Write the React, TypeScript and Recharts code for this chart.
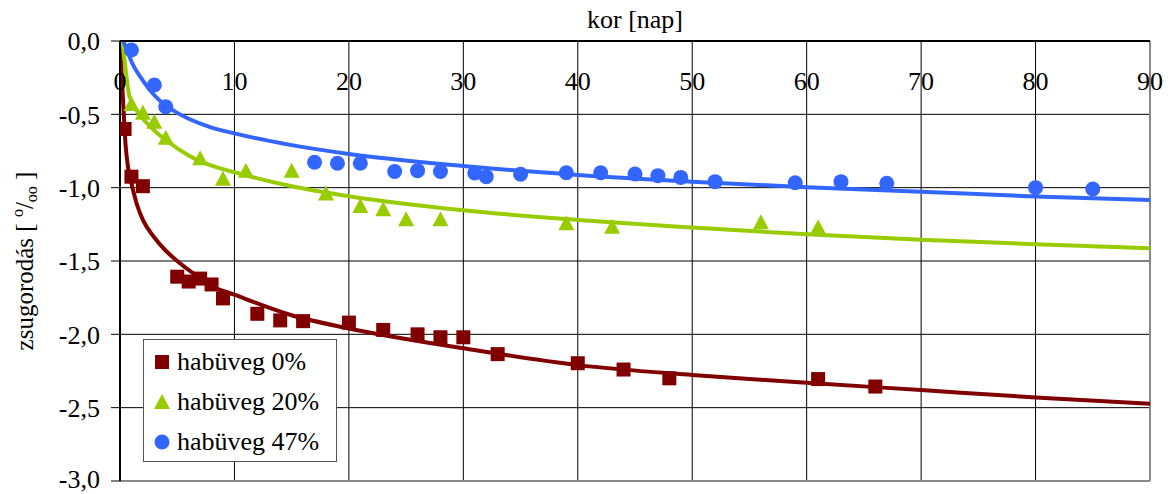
import React from "react";
import {
  ComposedChart,
  Line,
  Scatter,
  XAxis,
  YAxis,
  CartesianGrid,
  Legend,
  ReferenceLine,
} from "recharts";

// measured shrinkage, habüveg 0%
const days0 = [0.4, 1, 2, 5, 6, 7, 8, 9, 12, 14, 16, 20, 23, 26, 28, 30, 33, 40, 44, 48, 61, 66];
const vals0 = [-0.6, -0.925, -0.99, -1.607, -1.64, -1.62, -1.66, -1.755, -1.86, -1.905, -1.91, -1.92, -1.97, -2.0, -2.02, -2.02, -2.135, -2.197, -2.24, -2.3, -2.305, -2.356];

// habüveg 20%
const days20 = [1, 2, 3, 4, 7, 9, 11, 15, 18, 21, 23, 25, 28, 39, 43, 56, 61];
const vals20 = [-0.43, -0.49, -0.55, -0.66, -0.8, -0.94, -0.884, -0.884, -1.04, -1.125, -1.147, -1.215, -1.215, -1.243, -1.266, -1.236, -1.27];

// habüveg 47%
const days47 = [1, 3, 4, 17, 19, 21, 24, 26, 28, 31, 32, 35, 39, 42, 45, 47, 49, 52, 59, 63, 67, 80, 85];
const vals47 = [-0.061, -0.3, -0.448, -0.827, -0.834, -0.834, -0.89, -0.884, -0.89, -0.9, -0.925, -0.909, -0.898, -0.898, -0.907, -0.918, -0.93, -0.959, -0.966, -0.959, -0.97, -1.0, -1.009];

// trend curves
const trendDays0 = [0, 0.25, 0.5, 0.7, 1, 1.5, 2, 3, 4, 5, 6.5, 8, 10, 15, 20, 30, 40, 50, 60, 70, 80, 90];
const trend0 = [0, -0.38, -0.72, -0.86, -0.97, -1.12, -1.22, -1.34, -1.43, -1.5, -1.59, -1.67, -1.73, -1.87, -1.96, -2.095, -2.21, -2.277, -2.33, -2.38, -2.43, -2.474];

const trendDays20 = [0.2, 0.5, 0.8, 1, 1.5, 2, 3, 4, 6, 8, 10, 15, 20, 30, 40, 50, 60, 70, 80, 90];
const trend20 = [0, -0.2, -0.37, -0.41, -0.48, -0.53, -0.61, -0.675, -0.78, -0.85, -0.895, -0.99, -1.058, -1.154, -1.22, -1.272, -1.318, -1.355, -1.385, -1.413];

const trendDays47 = [0.3, 0.6, 1, 2, 3, 4, 5, 6, 8, 10, 15, 20, 30, 40, 50, 60, 70, 80, 90];
const trend47 = [0, -0.06, -0.14, -0.27, -0.37, -0.44, -0.49, -0.53, -0.59, -0.63, -0.71, -0.77, -0.852, -0.913, -0.959, -0.997, -1.027, -1.061, -1.084];

const xTicks = [0, 10, 20, 30, 40, 50, 60, 70, 80, 90];
const yTicks = [0, -0.5, -1, -1.5, -2, -2.5, -3];

const seriesNames = ["habüveg 0%", "habüveg 20%", "habüveg 47%"];
const colors = ["#800000", "#99cc00", "#3366ff"];

const FONT = "Liberation Serif, Tinos, Times New Roman, DejaVu Serif, serif";

const toPoints = (xs: number[], ys: number[]) => xs.map((x, i) => ({ x, y: ys[i] }));

const Square = ({ cx, cy, fill }: any) => (
  <rect x={cx - 7} y={cy - 7} width={14} height={14} fill={fill} />
);
const Triangle = ({ cx, cy, fill }: any) => (
  <polygon points={`${cx},${cy - 8} ${cx + 8},${cy + 7} ${cx - 8},${cy + 7}`} fill={fill} />
);
const Dot = ({ cx, cy, fill }: any) => <circle cx={cx} cy={cy} r={7.5} fill={fill} />;

const shapes = [Square, Triangle, Dot];

const XTick = ({ x, y, payload }: any) => (
  <text x={x} y={y + 57} textAnchor="middle" fontSize={26} fontFamily={FONT} fill="#000">
    {payload.value}
  </text>
);

const YLabel = () => (
  <text
    transform="translate(33,261) rotate(-90)"
    textAnchor="middle"
    fontSize={25}
    fontFamily={FONT}
    fill="#000"
  >
    zsugorodás [ <tspan fontSize={16} dy={-10}>o</tspan>
    <tspan dy={10}>/</tspan>
    <tspan fontSize={16} dy={4}>oo</tspan>
    <tspan dy={-4}> ]</tspan>
  </text>
);

const LegendBox = () => (
  <div
    style={{
      width: 194,
      height: 123,
      border: "1px solid #555",
      background: "#fff",
      boxSizing: "border-box",
      fontFamily: FONT,
      fontSize: 26,
      padding: "2px 0 0 9px",
    }}
  >
    {seriesNames.map((name, i) => {
      const Shape = shapes[i];
      return (
        <div key={name} style={{ display: "flex", alignItems: "center", height: 40 }}>
          <svg width={18} height={18} style={{ marginRight: 6 }}>
            <Shape cx={9} cy={9} fill={colors[i]} />
          </svg>
          <span>{name}</span>
        </div>
      );
    })}
  </div>
);

export default function App() {
  const points = [toPoints(days0, vals0), toPoints(days20, vals20), toPoints(days47, vals47)];
  const trends = [
    toPoints(trendDays0, trend0),
    toPoints(trendDays20, trend20),
    toPoints(trendDays47, trend47),
  ];

  return (
    <div style={{ position: "absolute", left: 0, top: 0, width: 1173, height: 494, background: "#fff" }}>
      <ComposedChart width={1173} height={494} margin={{ top: 0, right: 23, bottom: 13, left: 0 }}>
        <CartesianGrid stroke="#000" strokeWidth={1} />
        <ReferenceLine x={90} stroke="#888" strokeWidth={2} />
        <ReferenceLine y={-3} stroke="#888" strokeWidth={2} />
        <XAxis
          type="number"
          dataKey="x"
          orientation="top"
          domain={[0, 90]}
          ticks={xTicks}
          height={41}
          tickLine={false}
          axisLine={{ stroke: "#000", strokeWidth: 2 }}
          tick={<XTick />}
          label={{
            value: "kor [nap]",
            position: "insideTop",
            offset: 10,
            fontSize: 26,
            fontFamily: FONT,
            fill: "#000",
          }}
          allowDataOverflow
        />
        <YAxis
          type="number"
          dataKey="y"
          domain={[-3, 0]}
          ticks={yTicks}
          width={120}
          tickSize={9}
          tickMargin={11}
          tickLine={{ stroke: "#000" }}
          axisLine={{ stroke: "#000", strokeWidth: 2 }}
          tick={{ fill: "#000", fontSize: 26, fontFamily: FONT }}
          tickFormatter={(v: number) => v.toFixed(1).replace(".", ",")}
          label={<YLabel />}
          allowDataOverflow
        />
        {trends.map((data, i) => (
          <Line
            key={"t" + i}
            data={data}
            dataKey="y"
            type="monotone"
            stroke={colors[i]}
            strokeWidth={4}
            dot={false}
            activeDot={false}
            isAnimationActive={false}
            legendType="none"
          />
        ))}
        {points.map((data, i) => {
          const Shape = shapes[i];
          return (
            <Scatter
              key={"s" + i}
              name={seriesNames[i]}
              data={data}
              dataKey="y"
              fill={colors[i]}
              shape={(p: any) => <Shape cx={p.cx} cy={p.cy} fill={colors[i]} />}
              isAnimationActive={false}
            />
          );
        })}
        <Legend
          layout="vertical"
          align="center"
          verticalAlign="middle"
          content={<LegendBox />}
          wrapperStyle={{ left: 143, top: 339, width: 194, height: 123 }}
        />
      </ComposedChart>
    </div>
  );
}
